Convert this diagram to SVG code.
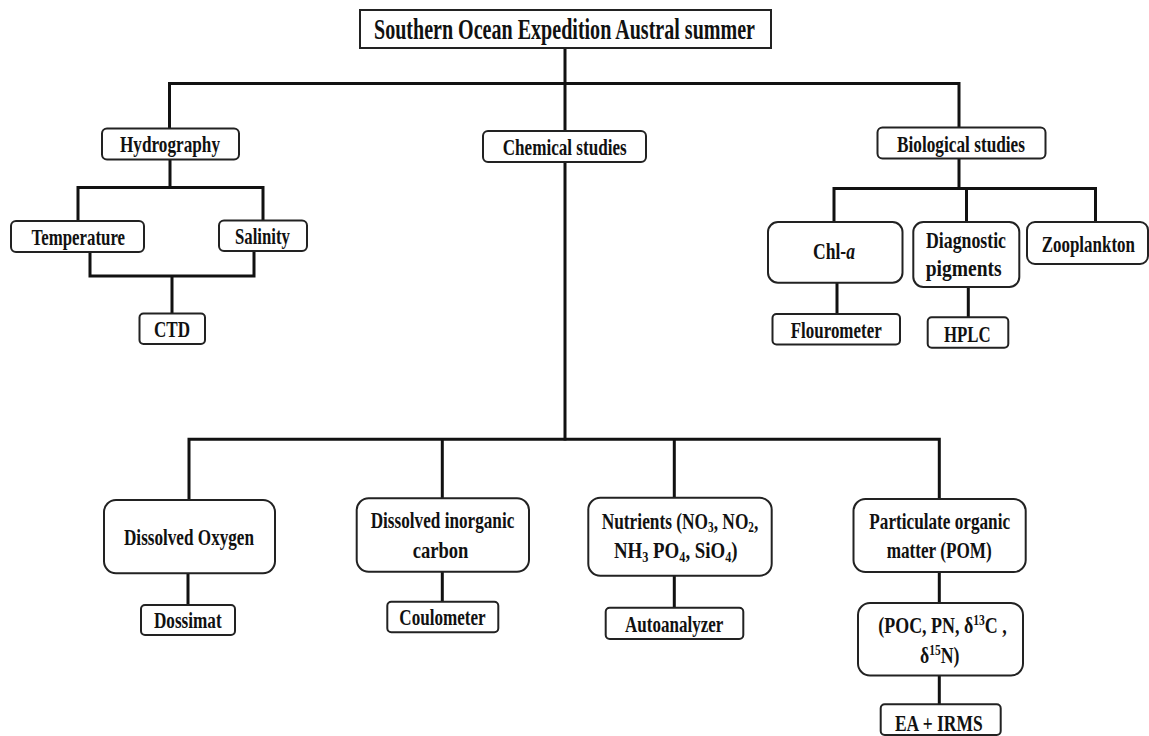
<svg xmlns="http://www.w3.org/2000/svg" width="1149" height="736" viewBox="0 0 1149 736">
<style>
.bx{fill:#fff;stroke:#222;stroke-width:2}
.cn{fill:none;stroke:#111;stroke-width:3;stroke-linecap:square}
text{font-family:"Liberation Serif","Times New Roman",serif;font-weight:bold;font-size:24px;fill:#111;text-anchor:middle}
.t{font-size:30px}
.s{font-size:15.5px}
</style>
<rect width="1149" height="736" fill="#fff"/>
<g id="connectors">
<path class="cn" d="M565 48V131M565 162V439M169.5 83.5H959M169.5 83.5V128.5M959 83.5V127.5"/>
<path class="cn" d="M170 159.5V187.5M78 187.5H263M78 187.5V221M263 187.5V220.5M90 252V276M254 251V276M90 276H254M172 276V313.5"/>
<path class="cn" d="M959 158.5V188.5M834 188.5H1095.5M834 188.5V222M966.5 188.5V222M1095.5 188.5V222M837 282.7V314M968.3 287V317.3"/>
<path class="cn" d="M189 439.3H939.3M189 439.3V500M442.3 439.3V498.3M674.3 439.3V497.7M939.3 439.3V499M188 573.3V605M442.3 571.7V601.7M674.3 575.7V607.7M939.3 572V603M939.3 675.5V704.3"/>
</g>
<g id="n-root"><rect class="bx" x="360" y="10" width="411" height="38"/><text class="t" transform="scale(.72 1)" x="784.03" y="38.8" textLength="529.17" lengthAdjust="spacingAndGlyphs">Southern Ocean Expedition Austral summer</text></g>
<g id="n-hydro"><rect class="bx" x="102" y="128.5" width="137" height="31" rx="5"/><text transform="scale(.72 1)" x="236.11" y="152.5" textLength="138.89" lengthAdjust="spacingAndGlyphs">Hydrography</text></g>
<g id="n-chem"><rect class="bx" x="483" y="131" width="163" height="31" rx="5"/><text transform="scale(.72 1)" x="784.31" y="155" textLength="172.22" lengthAdjust="spacingAndGlyphs">Chemical studies</text></g>
<g id="n-bio"><rect class="bx" x="877.5" y="127.5" width="168" height="31" rx="5"/><text transform="scale(.72 1)" x="1334.72" y="152.5" textLength="177.78" lengthAdjust="spacingAndGlyphs">Biological studies</text></g>
<g id="n-temp"><rect class="bx" x="11" y="221" width="133" height="31" rx="5"/><text transform="scale(.72 1)" x="108.75" y="245" textLength="129.86" lengthAdjust="spacingAndGlyphs">Temperature</text></g>
<g id="n-sal"><rect class="bx" x="219" y="220.5" width="88" height="30.5" rx="5"/><text transform="scale(.72 1)" x="364.58" y="244.5" textLength="76.39" lengthAdjust="spacingAndGlyphs">Salinity</text></g>
<g id="n-ctd"><rect class="bx" x="139.5" y="313.5" width="65.5" height="30.5" rx="4"/><text transform="scale(.72 1)" x="238.89" y="337" textLength="50" lengthAdjust="spacingAndGlyphs">CTD</text></g>
<g id="n-chla"><rect class="bx" x="768" y="222" width="134.5" height="60.7" rx="10"/><text transform="scale(.72 1)" x="1158.33" y="259.5" textLength="58.33" lengthAdjust="spacingAndGlyphs">Chl-<tspan font-style="italic">a</tspan></text></g>
<g id="n-diag"><rect class="bx" x="913.3" y="222" width="106" height="65" rx="10"/><text transform="scale(.72 1)" x="1341.67" y="248.3" textLength="111.11" lengthAdjust="spacingAndGlyphs">Diagnostic</text><text transform="scale(.72 1)" x="1338.47" y="276.5" textLength="105.56" lengthAdjust="spacingAndGlyphs">pigments</text></g>
<g id="n-zoo"><rect class="bx" x="1027" y="222" width="121" height="42" rx="8"/><text transform="scale(.72 1)" x="1511.53" y="251.7" textLength="129.58" lengthAdjust="spacingAndGlyphs">Zooplankton</text></g>
<g id="n-flu"><rect class="bx" x="772.5" y="314" width="127.5" height="30.5" rx="4"/><text transform="scale(.72 1)" x="1161.39" y="338.3" textLength="126.39" lengthAdjust="spacingAndGlyphs">Flourometer</text></g>
<g id="n-hplc"><rect class="bx" x="927.7" y="317.3" width="80.6" height="30.4" rx="4"/><text transform="scale(.72 1)" x="1343.47" y="341.7" textLength="64.86" lengthAdjust="spacingAndGlyphs">HPLC</text></g>
<g id="n-do"><rect class="bx" x="104" y="500" width="171" height="73.3" rx="12"/><text transform="scale(.72 1)" x="262.5" y="545" textLength="180.56" lengthAdjust="spacingAndGlyphs">Dissolved Oxygen</text></g>
<g id="n-dic"><rect class="bx" x="356.7" y="498.3" width="172.3" height="73.4" rx="12"/><text transform="scale(.72 1)" x="614.58" y="528.3" textLength="199.44" lengthAdjust="spacingAndGlyphs">Dissolved inorganic</text><text transform="scale(.72 1)" x="611.81" y="557.7" textLength="77.36" lengthAdjust="spacingAndGlyphs">carbon</text></g>
<g id="n-nut"><rect class="bx" x="588.3" y="497.7" width="183.4" height="78" rx="12"/><text transform="scale(.72 1)" x="944.44" y="529.5" textLength="217.5" lengthAdjust="spacingAndGlyphs">Nutrients (NO<tspan class="s" dy="3">3</tspan><tspan dy="-3">, NO</tspan><tspan class="s" dy="3">2</tspan><tspan dy="-3">,</tspan></text><text transform="scale(.72 1)" x="938.61" y="558" textLength="171.81" lengthAdjust="spacingAndGlyphs">NH<tspan class="s" dy="4">3</tspan><tspan dy="-4"> PO</tspan><tspan class="s" dy="4">4</tspan><tspan dy="-4">, SiO</tspan><tspan class="s" dy="4">4</tspan><tspan dy="-4">)</tspan></text></g>
<g id="n-pom"><rect class="bx" x="853.5" y="499" width="172.2" height="73" rx="12"/><text transform="scale(.72 1)" x="1305.14" y="529.3" textLength="195.42" lengthAdjust="spacingAndGlyphs">Particulate organic</text><text transform="scale(.72 1)" x="1304.44" y="558.3" textLength="145.83" lengthAdjust="spacingAndGlyphs">matter (POM)</text></g>
<g id="n-dos"><rect class="bx" x="141" y="605" width="94" height="30" rx="4"/><text transform="scale(.72 1)" x="260.83" y="628.3" textLength="94.03" lengthAdjust="spacingAndGlyphs">Dossimat</text></g>
<g id="n-cou"><rect class="bx" x="387.3" y="601.7" width="111" height="30.6" rx="4"/><text transform="scale(.72 1)" x="614.58" y="625" textLength="120" lengthAdjust="spacingAndGlyphs">Coulometer</text></g>
<g id="n-auto"><rect class="bx" x="605.7" y="607.7" width="137.6" height="31.3" rx="4"/><text transform="scale(.72 1)" x="936.39" y="631.7" textLength="136.53" lengthAdjust="spacingAndGlyphs">Autoanalyzer</text></g>
<g id="n-poc"><rect class="bx" x="858" y="603" width="165" height="72.5" rx="12"/><text transform="scale(.72 1)" x="1309.03" y="633.3" textLength="178.33" lengthAdjust="spacingAndGlyphs">(POC, PN, δ<tspan class="s" dy="-8">13</tspan><tspan dy="8">C ,</tspan></text><text transform="scale(.72 1)" x="1305.14" y="663.3" textLength="54.58" lengthAdjust="spacingAndGlyphs">δ<tspan class="s" dy="-8">15</tspan><tspan dy="8">N)</tspan></text></g>
<g id="n-ea"><rect class="bx" x="880.7" y="704.3" width="120" height="30.7" rx="4"/><text transform="scale(.72 1)" x="1303.89" y="731" textLength="121.81" lengthAdjust="spacingAndGlyphs">EA + IRMS</text></g>
</svg>
